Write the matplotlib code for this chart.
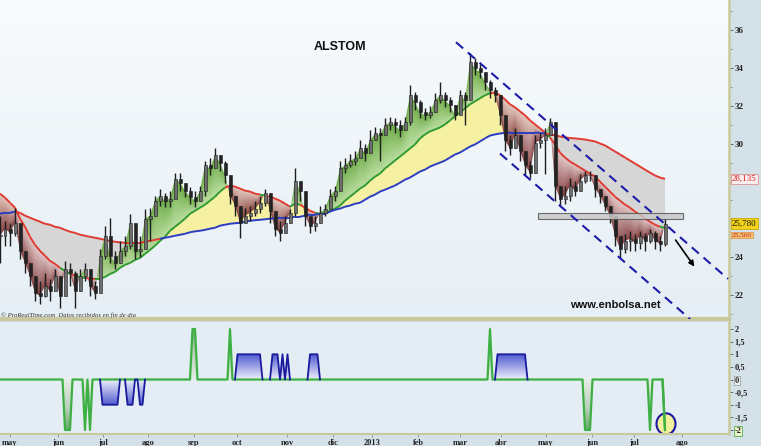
import numpy as np
import matplotlib
matplotlib.use('Agg')
import matplotlib.pyplot as plt
from matplotlib.collections import LineCollection
from matplotlib.patches import Rectangle, Ellipse, FancyArrowPatch
from matplotlib.path import Path
from matplotlib.colors import LinearSegmentedColormap
import matplotlib.transforms as mtransforms

# ---------------- data ----------------
close = [25.14, 25.51, 25.29, 25.82, 24.34, 23.70, 23.02, 22.11, 21.96, 22.49,
         22.22, 23.02, 21.96, 23.39, 23.17, 22.22, 23.02, 23.39, 22.49, 22.11,
         24.08, 25.14, 24.08, 23.70, 24.34, 24.61, 25.82, 24.34, 24.45, 26.04,
         26.20, 26.99, 27.26, 26.99, 27.10, 28.16, 27.94, 27.52, 27.20, 26.99,
         27.52, 28.85, 28.69, 29.38, 29.00, 28.32, 27.26, 26.73, 25.82, 26.20,
         26.35, 26.57, 26.88, 27.41, 26.46, 25.51, 25.29, 25.82, 26.35, 28.05,
         27.52, 26.20, 25.67, 25.82, 26.35, 26.57, 27.26, 27.52, 28.69, 28.85,
         29.11, 29.22, 29.75, 29.53, 30.17, 30.54, 30.44, 30.97, 31.12, 30.97,
         30.70, 31.12, 32.56, 32.18, 31.65, 31.50, 31.65, 32.29, 32.56, 32.29,
         32.03, 31.50, 32.56, 32.29, 34.30, 33.99, 33.77, 33.24, 32.82, 32.56,
         31.50, 30.17, 29.75, 30.44, 29.64, 28.85, 28.47, 30.06, 30.17, 30.44,
         31.12, 27.79, 27.10, 27.26, 27.79, 27.52, 28.05, 28.32, 28.32, 27.63,
         27.26, 26.73, 26.20, 25.14, 24.45, 24.87, 24.98, 24.76, 25.14, 24.87,
         25.29, 24.87, 24.71, 25.78]
high = [26.20, 25.93, 25.82, 26.62, 25.67, 24.34, 23.70, 23.02, 22.75, 23.17,
        22.86, 23.39, 22.75, 23.81, 23.70, 23.28, 23.39, 23.70, 23.28, 22.75,
        24.45, 25.67, 26.09, 24.34, 24.87, 25.14, 26.30, 24.98, 25.14, 26.57,
        26.62, 27.26, 27.63, 27.41, 27.52, 28.47, 28.47, 27.94, 27.73, 27.52,
        27.79, 29.11, 29.22, 29.75, 29.38, 29.11, 28.05, 27.26, 26.46, 26.62,
        26.73, 26.99, 27.26, 27.63, 27.26, 26.20, 25.93, 26.20, 26.57, 28.69,
        28.05, 27.26, 26.20, 26.20, 26.73, 26.83, 27.63, 27.79, 29.11, 29.22,
        29.48, 29.64, 30.17, 30.01, 30.70, 30.86, 30.81, 31.34, 31.39, 31.34,
        31.23, 31.39, 33.09, 32.71, 32.29, 31.87, 31.97, 32.66, 33.24, 32.71,
        32.45, 31.87, 32.82, 32.71, 34.78, 34.52, 34.20, 33.62, 33.35, 32.98,
        32.29, 30.97, 30.44, 30.81, 30.17, 29.64, 29.11, 30.44, 30.54, 30.81,
        31.34, 28.58, 27.79, 27.79, 28.21, 28.05, 28.42, 28.58, 28.58, 28.16,
        27.63, 27.10, 26.73, 25.82, 25.14, 25.24, 25.40, 25.24, 25.40, 25.29,
        25.51, 25.40, 25.14, 26.04]
low = [23.70, 24.61, 24.61, 25.14, 23.92, 23.17, 22.49, 21.69, 21.53, 21.90,
       21.69, 22.22, 21.32, 22.49, 22.49, 21.32, 22.22, 22.75, 21.96, 21.80,
       22.22, 23.92, 23.70, 23.39, 23.70, 24.08, 24.45, 23.92, 24.02, 25.14,
       24.87, 26.20, 26.73, 26.67, 26.67, 27.52, 27.52, 27.20, 26.83, 26.67,
       26.99, 27.26, 28.32, 28.69, 28.58, 27.94, 26.83, 26.20, 25.03, 25.82,
       25.93, 26.20, 26.35, 26.73, 25.82, 25.14, 24.87, 25.29, 25.93, 26.20,
       26.99, 25.67, 25.29, 25.40, 26.04, 26.20, 26.83, 26.99, 28.32, 28.47,
       28.79, 28.85, 29.22, 29.11, 29.64, 30.17, 29.11, 30.59, 30.70, 30.54,
       30.33, 30.81, 30.97, 31.76, 31.34, 31.23, 31.34, 31.87, 32.13, 31.92,
       31.65, 31.23, 32.03, 30.97, 32.82, 33.62, 33.46, 32.82, 32.40, 32.18,
       30.97, 29.64, 29.38, 29.91, 29.11, 28.32, 28.21, 29.11, 29.75, 28.42,
       30.44, 26.99, 26.73, 26.83, 26.99, 27.26, 27.63, 27.94, 28.05, 27.20,
       26.88, 26.46, 25.82, 24.61, 23.97, 24.23, 24.34, 24.34, 24.45, 24.34,
       24.76, 24.45, 24.34, 24.61]
ma_fast = [27.36, 27.15, 26.88, 26.62, 26.04, 25.61, 25.08, 24.66, 24.34, 24.08,
           23.81, 23.65, 23.44, 23.28, 23.12, 23.02, 22.96, 22.91, 22.88, 22.86,
           22.86, 22.96, 23.12, 23.23, 23.44, 23.60, 23.70, 23.86, 23.97, 24.18,
           24.39, 24.61, 24.87, 25.08, 25.40, 25.61, 25.82, 26.04, 26.30, 26.46,
           26.62, 26.78, 26.99, 27.20, 27.47, 27.68, 27.79, 27.73, 27.63, 27.52,
           27.47, 27.36, 27.31, 27.26, 27.20, 27.10, 26.99, 26.83, 26.67, 26.83,
           26.78, 26.62, 26.46, 26.35, 26.30, 26.35, 26.46, 26.57, 26.73, 26.99,
           27.20, 27.41, 27.63, 27.79, 28.05, 28.26, 28.42, 28.69, 28.90, 29.11,
           29.32, 29.53, 29.75, 29.96, 30.28, 30.49, 30.65, 30.75, 30.86, 31.02,
           31.23, 31.44, 31.65, 31.87, 32.08, 32.24, 32.40, 32.56, 32.66, 32.71,
           32.56, 32.34, 32.08, 31.92, 31.71, 31.50, 31.23, 31.02, 30.81, 30.59,
           30.33, 29.96, 29.53, 29.27, 29.06, 28.90, 28.74, 28.58, 28.42, 28.26,
           28.00, 27.73, 27.47, 27.20, 26.99, 26.78, 26.62, 26.41, 26.25, 26.04,
           25.88, 25.72, 25.61, 25.56]
ma_slow = [26.30, 26.35, 26.35, 26.41, 26.35, 26.20, 26.09, 25.98, 25.88, 25.77,
           25.72, 25.61, 25.56, 25.45, 25.35, 25.29, 25.19, 25.14, 25.08, 25.03,
           24.98, 24.92, 24.87, 24.82, 24.79, 24.76, 24.76, 24.76, 24.76, 24.82,
           24.87, 24.92, 24.98, 25.03, 25.08, 25.14, 25.19, 25.24, 25.32, 25.37,
           25.40, 25.45, 25.51, 25.56, 25.67, 25.72, 25.77, 25.80, 25.82, 25.88,
           25.93, 25.96, 25.98, 26.01, 26.04, 26.06, 26.09, 26.09, 26.09, 26.14,
           26.14, 26.20, 26.25, 26.25, 26.30, 26.30, 26.41, 26.51, 26.57, 26.67,
           26.73, 26.83, 26.88, 27.04, 27.20, 27.31, 27.47, 27.57, 27.68, 27.79,
           27.94, 28.10, 28.21, 28.37, 28.53, 28.63, 28.79, 28.90, 29.00, 29.11,
           29.27, 29.43, 29.53, 29.69, 29.85, 29.96, 30.12, 30.28, 30.43, 30.49,
           30.54, 30.57, 30.59, 30.59, 30.59, 30.59, 30.59, 30.59, 30.57, 30.54,
           30.49, 30.44, 30.38, 30.33, 30.30, 30.28, 30.25, 30.22, 30.17, 30.12,
           30.01, 29.91, 29.75, 29.59, 29.43, 29.27, 29.11, 28.95, 28.79, 28.63,
           28.47, 28.32, 28.21, 28.14]

month_labels = ['may', 'jun', 'jul', 'ago', 'sep', 'oct', 'nov', 'dic', '2013',
                'feb', 'mar', 'abr', 'may', 'jun', 'jul', 'ago']

# indicator (half-sample grid), non-zero entries only
sig_idx = [26, 27, 28, 34, 36,
           41, 42, 43, 44, 45, 46, 47, 51, 52, 53, 56, 57,
           77, 78, 92,
           95, 96, 97, 98, 99, 100, 101, 102, 103, 104,
           109, 110, 111, 113, 115, 124, 125, 126, 127,
           196,
           199, 200, 201, 202, 203, 204, 205, 206, 207, 208, 209, 210,
           234, 235, 236, 260, 266]
sig_val = [-2, -2, -2, -2, -2,
           -1, -1, -1, -1, -1, -1, -1, -1, -1, -1, -1, -1,
           2, 2, 2,
           1, 1, 1, 1, 1, 1, 1, 1, 1, 1,
           1, 1, 1, 1, 1, 1, 1, 1, 1,
           2,
           1, 1, 1, 1, 1, 1, 1, 1, 1, 1, 1, 1,
           -2, -2, -2, -2, -2]
sig_len = 267

last_price = 25.78
last_slow = 28.135
last_fast = 25.30

# drawn annotations (data coordinates)
chan_upper = ([91.2, 145.6], [35.36, 22.86])
chan_lower = ([100.0, 138.0], [29.48, 20.74])
support_box = (107.6, 136.6, 26.04, 26.35)
arrow_pts = ((134.8, 25.03), (139.2, 23.39))

# ---------------- figure ----------------
W, H = 761, 446
fig = plt.figure(figsize=(W / 100, H / 100), dpi=100, facecolor='#d5e1e9')

def px_axes(x0, y0, x1, y1):
    return fig.add_axes([x0 / W, 1 - y1 / H, (x1 - x0) / W, (y1 - y0) / H])

ax = px_axes(0, 0, 729, 319)
ax2 = px_axes(0, 322, 729, 434)

n = len(close)
idx = np.arange(n)
c = np.array(close); hi = np.array(high); lo = np.array(low)
f = np.array(ma_fast); s = np.array(ma_slow)
op = np.concatenate([[c[0]], c[:-1]])

XMAX = 145.8
YMIN, YMAX = 20.74, 37.59

# background gradient
bg = np.linspace(0, 1, 100).reshape(-1, 1)
ax.imshow(bg, extent=(0, 1, 0, 1), transform=ax.transAxes, aspect='auto',
          cmap=LinearSegmentedColormap.from_list('bg', ['#e6eff5', '#f8fbfd']),
          origin='lower', zorder=0)

# fast/slow fill
ax.fill_between(idx, f, s, where=f >= s, interpolate=True, color='#f6f1a2', lw=0, zorder=1)
ax.fill_between(idx, f, s, where=f < s, interpolate=True, color='#d6d6d6', lw=0, zorder=1)

# price/fast fills with gradient
gx = np.linspace(0, n - 1, 1400)
gy = np.linspace(YMIN, YMAX, 700)
Ci = np.interp(gx, idx, c)
Fi = np.interp(gx, idx, f)
den = Ci - Fi
den = np.where(np.abs(den) < 1e-3, 1e-3, den)
T = np.clip((gy[:, None] - Fi[None, :]) / den[None, :], 0, 1)

def grad_clip(coll, cmap, z):
    paths = coll.get_paths()
    if not paths:
        return
    comp = Path.make_compound_path(*paths)
    im = ax.imshow(T, extent=(0, n - 1, YMIN, YMAX), origin='lower', aspect='auto',
                   cmap=cmap, vmin=0, vmax=1, zorder=z, alpha=0.9)
    im.set_clip_path(comp, transform=ax.transData)
    coll.set_visible(False)

g_up = ax.fill_between(idx, c, f, where=c >= f, interpolate=True, lw=0)
g_dn = ax.fill_between(idx, c, f, where=c < f, interpolate=True, lw=0)
grad_clip(g_up, LinearSegmentedColormap.from_list('gu', ['#b6dc98', '#5da332']), 2)
grad_clip(g_dn, LinearSegmentedColormap.from_list('gd', ['#e2c4c4', '#7a2e2e']), 2)

# coloured moving averages
pts_f = np.column_stack([idx, f]).reshape(-1, 1, 2)
seg_f = np.concatenate([pts_f[:-1], pts_f[1:]], axis=1)
col_f = ['#2f9a2f' if c[i + 1] >= f[i + 1] else '#e03a30' for i in range(n - 1)]
ax.add_collection(LineCollection(seg_f, colors=col_f, linewidths=1.4, zorder=3))
pts_s = np.column_stack([idx, s]).reshape(-1, 1, 2)
seg_s = np.concatenate([pts_s[:-1], pts_s[1:]], axis=1)
col_s = ['#2b3cc0' if f[i + 1] >= s[i + 1] else '#e03a30' for i in range(n - 1)]
ax.add_collection(LineCollection(seg_s, colors=col_s, linewidths=1.4, zorder=3))

# candles
top = np.maximum.reduce([hi, op, c]); bot = np.minimum.reduce([lo, op, c])
ax.vlines(idx, bot, top, color='#1e1e1e', lw=1.0, zorder=4)
body_lo = np.minimum(op, c); body_h = np.maximum(np.abs(c - op), 0.05)
ax.bar(idx, body_h, bottom=body_lo, width=0.6,
       color=['#6e6e6e' if c[i] >= op[i] else '#222222' for i in range(n)],
       edgecolor='#1e1e1e', linewidth=0.4, zorder=5)

# grey support box
ax.add_patch(Rectangle((support_box[0], support_box[2]), support_box[1] - support_box[0],
                       support_box[3] - support_box[2], facecolor='#c8c8c8',
                       edgecolor='#555555', lw=0.8, alpha=0.85, zorder=6))

# channel lines
for xs_, ys_ in (chan_upper, chan_lower):
    ax.plot(xs_, ys_, color='#1c1ca8', lw=1.5, ls=(0, (4.5, 3)), zorder=7)

ax.add_patch(FancyArrowPatch(arrow_pts[0], arrow_pts[1], arrowstyle='-|>',
                             mutation_scale=8, color='black', lw=1.2, zorder=8))

ax.set_xlim(0, XMAX)
ax.set_ylim(YMIN, YMAX)

# texts
ax.text(340 / 729, 1 - 47 / 319, 'ALSTOM', transform=ax.transAxes, ha='center', va='center',
        fontsize=9, fontweight='bold', family='Liberation Sans', color='#111111')
ax.text(615 / 729, 1 - 305 / 319, 'www.enbolsa.net', transform=ax.transAxes, ha='center',
        va='center', fontsize=8, fontweight='bold', family='Liberation Sans', color='#111111')
ax.text(0.002, 1 - 315 / 319, '\u00a9 ProRealTime.com  Datos recibidos en fin de d\u00eda',
        transform=ax.transAxes, ha='left', va='center', fontsize=4.8, style='italic',
        family='Liberation Serif', color='#333333')

# axes styling main
ax.set_xticks([])
ax.yaxis.tick_right()
ytick_vals = [22, 24, 26, 28, 30, 32, 34, 36]
ax.set_yticks(ytick_vals)
# 26 and 28 are covered by the value boxes in the reference
ax.set_yticklabels(['' if v in (26, 28) else str(v) for v in ytick_vals])
ax.set_yticks(np.arange(21, 38, 1), minor=True)
ax.tick_params(axis='y', which='major', length=3, width=0.6, color='#555555', pad=1,
               labelsize=6.5, labelcolor='#222222')
ax.tick_params(axis='y', which='minor', length=2, width=0.5, color='#777777')
for lab in ax.get_yticklabels():
    lab.set_family('Liberation Serif'); lab.set_fontweight('bold')
for sp in ['top', 'left']:
    ax.spines[sp].set_visible(False)
ax.spines['bottom'].set_color('#c9c99c'); ax.spines['bottom'].set_linewidth(3)
ax.spines['right'].set_color('#c9c99c'); ax.spines['right'].set_linewidth(1.8)

blend = mtransforms.blended_transform_factory(ax.transAxes, ax.transData)
ax.text(1.004, last_fast, '25,560', transform=blend, ha='left', va='top',
        fontsize=5.2, family='Liberation Serif', color='#d02020', clip_on=False, zorder=9,
        bbox=dict(boxstyle='square,pad=0.1', fc='#f0c070', ec='#e09040', lw=0.5))
ax.text(1.004, last_price, '25,780', transform=blend, ha='left', va='center',
        fontsize=6.5, family='Liberation Serif', color='#111111', clip_on=False, zorder=10,
        bbox=dict(boxstyle='square,pad=0.15', fc='#f2d21a', ec='#c9a800', lw=0.6))
ax.text(1.004, last_slow, '28,135', transform=blend, ha='left', va='center',
        fontsize=6.5, family='Liberation Serif', color='#d42020', clip_on=False, zorder=10,
        bbox=dict(boxstyle='square,pad=0.15', fc='#fbeeee', ec='#e09090', lw=0.6))

# ---------------- indicator panel ----------------
ax2.set_facecolor('#e3edf3')
sig = np.zeros(sig_len)
sig[np.array(sig_idx)] = sig_val
xs = np.arange(sig_len) * 0.5
s_green = np.where(np.abs(sig) == 2, sig, 0.0)
s_blue = np.where(np.abs(sig) == 1, sig, 0.0)

YG = np.linspace(-2.2, 2.3, 300).reshape(-1, 1)

def grad2(coll, colors):
    paths = coll.get_paths()
    if not paths:
        return
    comp = Path.make_compound_path(*paths)
    im = ax2.imshow(np.abs(YG), extent=(0, XMAX, -2.2, 2.3), origin='lower', aspect='auto',
                    cmap=LinearSegmentedColormap.from_list('g2', colors), vmin=0,
                    vmax=float(np.abs(YG).max()), zorder=1)
    im.set_clip_path(comp, transform=ax2.transData)
    coll.set_visible(False)

cg = ax2.fill_between(xs, 0, s_green, lw=0)
grad2(cg, ['#e6ece6', '#b9cfb9', '#4e9a4e'])
cb = ax2.fill_between(xs, 0, s_blue, lw=0)
grad2(cb, ['#eef0fc', '#3a46c8', '#1a1a90'])

ax2.plot(xs, s_green, color='#3cb043', lw=1.6, zorder=3)
nz = s_blue != 0
m = nz | np.roll(nz, 1) | np.roll(nz, -1)
ax2.plot(xs, np.where(m, s_blue, np.nan), color='#1a1a9e', lw=1.3, zorder=4)

ax2.add_patch(Ellipse((133.2, -1.76), 3.8, 0.84, facecolor='#f3f09a', edgecolor='#1a1a9e',
                      lw=1.5, zorder=2))
ax2.plot(xs[-2:], s_green[-2:], color='#3cb043', lw=1.6, zorder=5)

ax2.set_xlim(0, XMAX)
ax2.set_ylim(-2.16, 2.28)
ax2.yaxis.tick_right()
yt = [2, 1.5, 1, 0.5, 0, -0.5, -1, -1.5, -2]
ax2.set_yticks(yt)
ax2.set_yticklabels([('%g' % v).replace('.', ',') for v in yt])
ax2.tick_params(axis='y', length=3, width=0.6, color='#555555', pad=1, labelsize=6,
                labelcolor='#222222')
for lab in ax2.get_yticklabels():
    lab.set_family('Liberation Serif'); lab.set_fontweight('bold')
    if lab.get_text() == '0':
        lab.set_bbox(dict(boxstyle='square,pad=0.1', fc='#eef2f4', ec='#909090', lw=0.5))
    if lab.get_text() == '-2':
        lab.set_bbox(dict(boxstyle='square,pad=0.1', fc='#eef6c8', ec='#4caf50', lw=0.6))

month_pos = [2, 11.6, 20.6, 29.6, 38.8, 47.4, 57.4, 66.6, 74.4, 83.6, 92, 100.2, 109.2,
             118.4, 126.8, 136.4]
ax2.set_xticks(month_pos)
ax2.set_xticklabels(month_labels)
ax2.tick_params(axis='x', length=2, width=0.5, color='#777777', pad=1.5, labelsize=6,
                labelcolor='#222222')
for lab in ax2.get_xticklabels():
    lab.set_family('Liberation Serif'); lab.set_fontweight('bold')
for sp in ['top', 'left']:
    ax2.spines[sp].set_visible(False)
ax2.spines['bottom'].set_color('#c9c99c'); ax2.spines['bottom'].set_linewidth(1.5)
ax2.spines['right'].set_color('#c9c99c'); ax2.spines['right'].set_linewidth(1.8)

fig.savefig('out.png', dpi=100, facecolor=fig.get_facecolor())
